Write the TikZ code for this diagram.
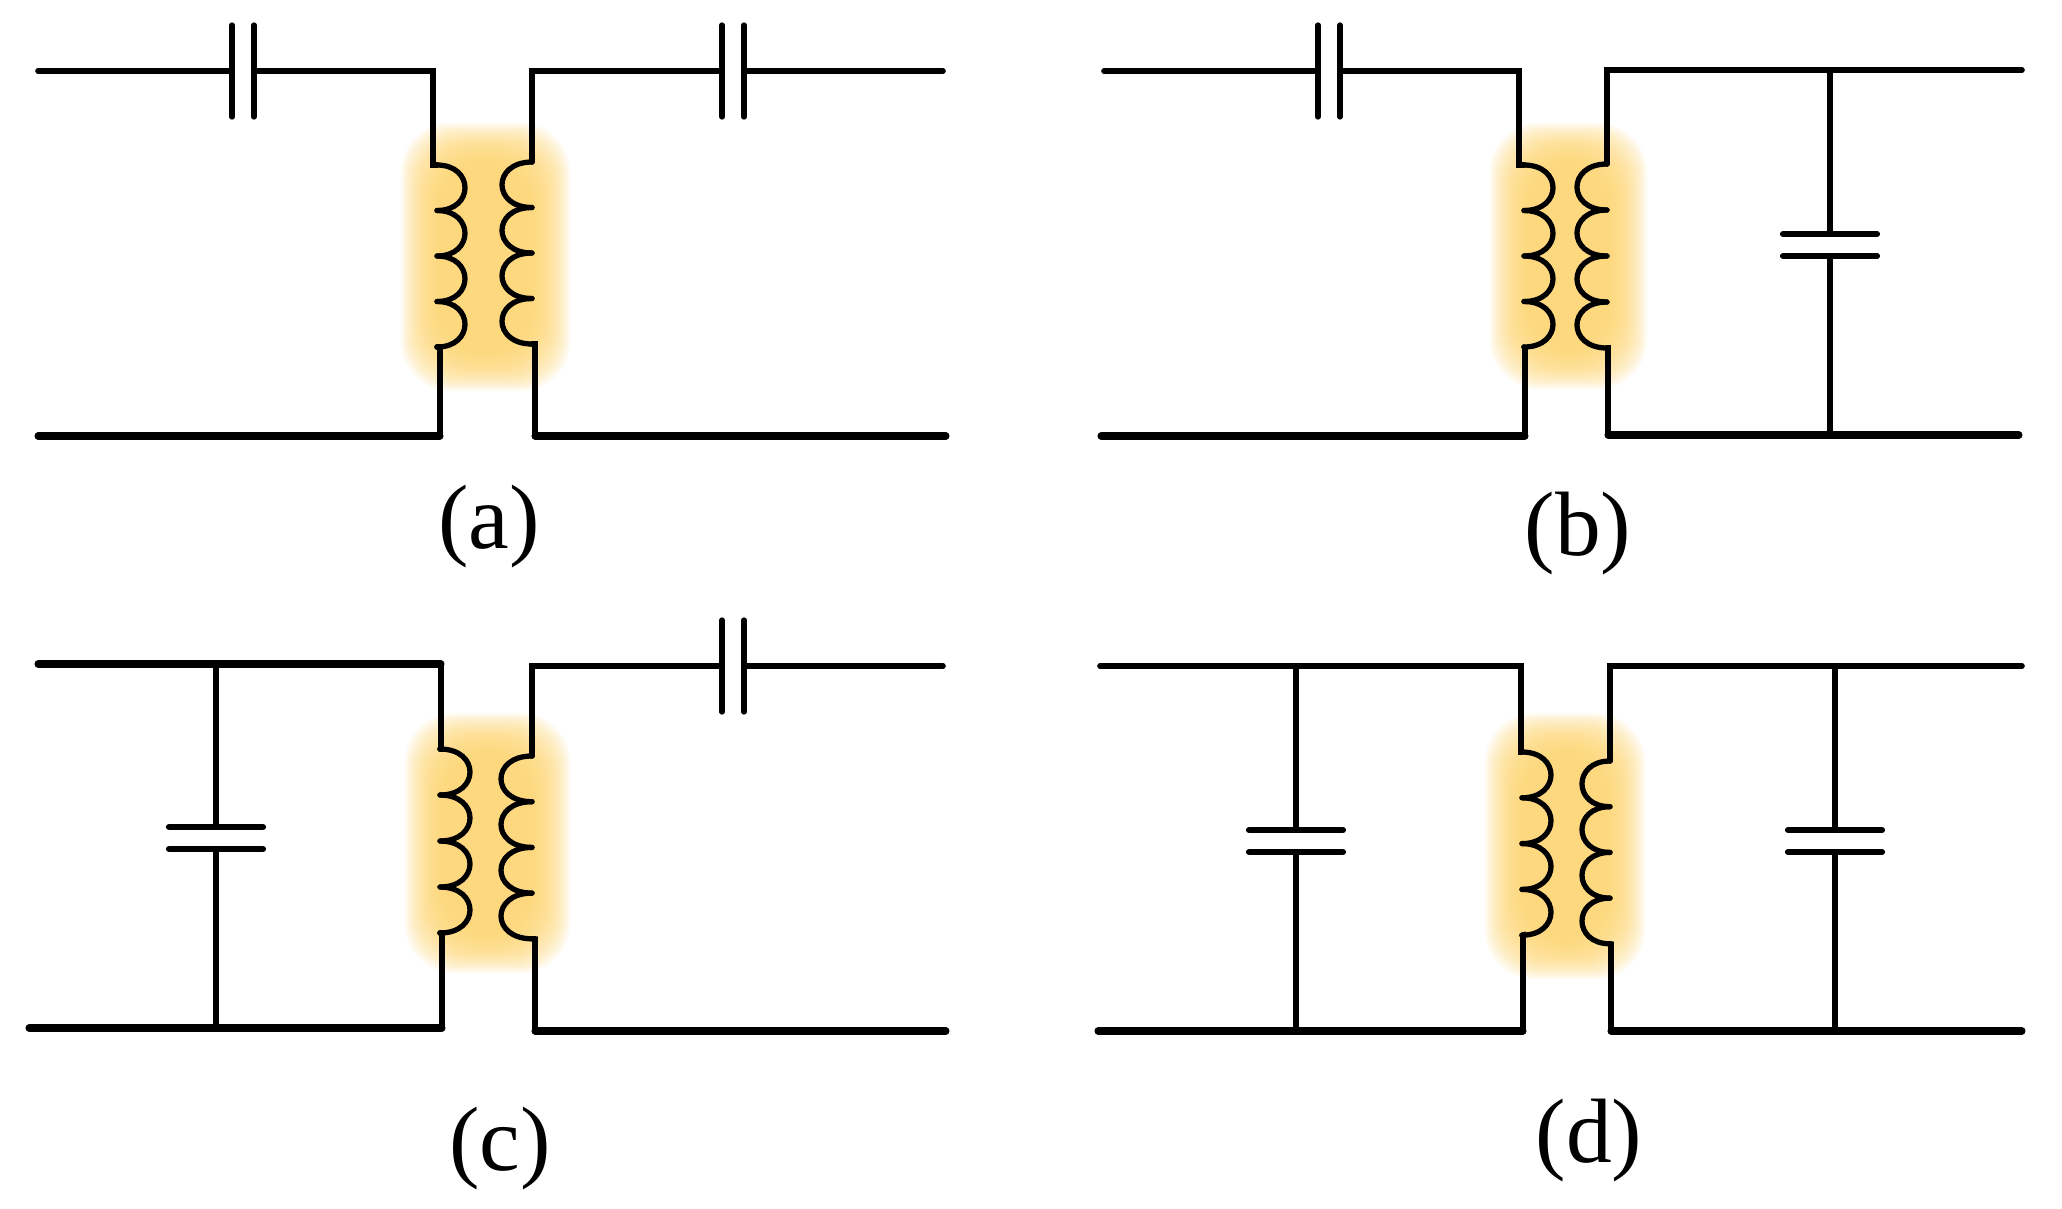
\documentclass[tikz,border=0pt]{standalone}
\usepackage{fontspec}
\setmainfont{Liberation Serif}
\definecolor{glowcol}{HTML}{FDD26A}
\tikzset{
  wire/.style={line width=1.6pt, line cap=round, line join=miter},
  busline/.style={line width=2pt, line cap=round, line join=miter},
  stem/.style={line width=1.5pt},
  coilline/.style={line width=1.5pt, line cap=round},
  sideplate/.style={line width=1.5pt, line cap=round},
  flatplate/.style={line width=1.75pt, line cap=round},
  tag/.style={font=\fontsize{26}{26}\selectfont, inner sep=0pt},
}
% soft yellow patch behind a transformer
\newcommand{\glow}[4]{
  \foreach \g in {0,...,23}
    \fill[glowcol, opacity=0.08, rounded corners=14]
      ({#1-5+\g*1.6},{#2-5+\g*1.6}) rectangle ({#3+5-\g*1.6},{#4+5-\g*1.6});
}
% name, x, y of first turn, turn height, bulge
\newcommand{\coil}[5]{
  \coordinate (#1t) at (#2,#3);
  \coordinate (#1b) at (#2,{#3+4*#4});
  \foreach \k in {0,...,3}
    \draw[coilline] (#2,{#3+\k*#4}) .. controls +({#5/0.75},0) and +({#5/0.75},0) .. +(0,#4);
}
% capacitor in a horizontal wire
\newcommand{\seriescap}[3]{
  \coordinate (#1l) at ({#2-11},#3);
  \coordinate (#1r) at ({#2+11},#3);
  \draw[sideplate] ({#2-11},{#3-46}) -- ({#2-11},{#3+46});
  \draw[sideplate] ({#2+11},{#3-46}) -- ({#2+11},{#3+46});
}
% capacitor in a vertical wire
\newcommand{\shuntcap}[3]{
  \coordinate (#1u) at (#2,{#3-11});
  \coordinate (#1d) at (#2,{#3+11});
  \draw[flatplate] ({#2-47},{#3-11}) -- ({#2+47},{#3-11});
  \draw[flatplate] ({#2-47},{#3+11}) -- ({#2+47},{#3+11});
}

\begin{document}
\begin{tikzpicture}[x=0.01cm, y=-0.01cm]
  \useasboundingbox (0,0) rectangle (2062,1208);

  % (a)
  \glow{406}{128}{565}{386}
  \coil{al}{437}{165}{45.5}{28}
  \coil{ar}{532}{162}{45.5}{-30}
  \seriescap{ac1}{243}{71}
  \seriescap{ac2}{733}{71}
  \coordinate (a1) at (38,71);
  \coordinate (a2) at (433,71);
  \coordinate (a3) at (433,165);
  \coordinate (a4) at (440,347);
  \coordinate (a5) at (440,436);
  \coordinate (a6) at (38,436);
  \coordinate (a7) at (532,71);
  \coordinate (a8) at (943,71);
  \coordinate (a9) at (535,344);
  \coordinate (a10) at (535,436);
  \coordinate (a11) at (946,436);
  \draw[wire] (a1) -- (ac1l);
  \draw[wire] (ac1r) -- (a2) -- (a3) -- (alt);
  \draw[wire] (alb) -- (a4) -- (a5);
  \draw[busline] (a5) -- (a6);
  \draw[wire] (ac2l) -- (a7) -- (art);
  \draw[wire] (ac2r) -- (a8);
  \draw[wire] (arb) -- (a9) -- (a10);
  \draw[busline] (a10) -- (a11);
  \node[tag] (tagA) at (489,527) {(a)};

  % (b)
  \glow{1495}{128}{1642}{384}
  \coil{bl}{1524}{165}{45.5}{29}
  \coil{br}{1607}{164}{46}{-30}
  \seriescap{bc1}{1329}{71}
  \shuntcap{bc2}{1830}{245}
  \coordinate (b1) at (1104,71);
  \coordinate (b2) at (1519,71);
  \coordinate (b3) at (1519,165);
  \coordinate (b4) at (1525,348);
  \coordinate (b5) at (1525,436);
  \coordinate (b6) at (1101,436);
  \coordinate (b7) at (1607,70);
  \coordinate (b8) at (2022,70);
  \coordinate (b9) at (1608,348);
  \coordinate (b10) at (1608,435);
  \coordinate (b11) at (2019,435);
  \coordinate (b12) at (1830,70);
  \coordinate (b13) at (1830,435);
  \draw[wire] (b1) -- (bc1l);
  \draw[wire] (bc1r) -- (b2) -- (b3) -- (blt);
  \draw[wire] (blb) -- (b4) -- (b5);
  \draw[busline] (b5) -- (b6);
  \draw[wire] (b8) -- (b7) -- (brt);
  \draw[wire] (brb) -- (b9) -- (b10);
  \draw[busline] (b10) -- (b11);
  \draw[stem] (b12) -- (bc2u);
  \draw[stem] (bc2d) -- (b13);
  \node[tag] (tagB) at (1578,533) {(b)};

  % (c)
  \glow{410}{718}{565}{968}
  \coil{cl}{440}{749}{46}{30}
  \coil{cr}{532}{756}{45.7}{-31}
  \shuntcap{cc1}{216}{838}
  \seriescap{cc2}{733}{666}
  \coordinate (c1) at (38,664);
  \coordinate (c2) at (441,664);
  \coordinate (c3) at (441,749);
  \coordinate (c4) at (442,933);
  \coordinate (c5) at (442,1028);
  \coordinate (c6) at (29,1028);
  \coordinate (c7) at (532,666);
  \coordinate (c8) at (943,666);
  \coordinate (c9) at (535,939);
  \coordinate (c10) at (535,1031);
  \coordinate (c11) at (946,1031);
  \coordinate (c12) at (216,664);
  \coordinate (c13) at (216,1028);
  \draw[busline] (c1) -- (c2);
  \draw[wire] (c2) -- (c3) -- (clt);
  \draw[wire] (clb) -- (c4) -- (c5);
  \draw[busline] (c5) -- (c6);
  \draw[wire] (cc2l) -- (c7) -- (crt);
  \draw[wire] (cc2r) -- (c8);
  \draw[wire] (crb) -- (c9) -- (c10);
  \draw[busline] (c10) -- (c11);
  \draw[stem] (c12) -- (cc1u);
  \draw[stem] (cc1d) -- (c13);
  \node[tag] (tagC) at (500,1148) {(c)};

  % (d)
  \glow{1490}{718}{1640}{974}
  \coil{dl}{1522}{752}{45.8}{29}
  \coil{dr}{1610}{761}{45.7}{-28}
  \shuntcap{dc1}{1296}{841}
  \shuntcap{dc2}{1835}{841}
  \coordinate (d1) at (1100,666);
  \coordinate (d2) at (1521,666);
  \coordinate (d3) at (1521,752);
  \coordinate (d4) at (1523,935);
  \coordinate (d5) at (1523,1031);
  \coordinate (d6) at (1098,1031);
  \coordinate (d7) at (1610,666);
  \coordinate (d8) at (2022,666);
  \coordinate (d9) at (1611,944);
  \coordinate (d10) at (1611,1031);
  \coordinate (d11) at (2022,1031);
  \coordinate (d12) at (1296,666);
  \coordinate (d13) at (1296,1031);
  \coordinate (d14) at (1835,666);
  \coordinate (d15) at (1835,1031);
  \draw[wire] (d1) -- (d2) -- (d3) -- (dlt);
  \draw[wire] (dlb) -- (d4) -- (d5);
  \draw[busline] (d5) -- (d6);
  \draw[wire] (d8) -- (d7) -- (drt);
  \draw[wire] (drb) -- (d9) -- (d10);
  \draw[busline] (d10) -- (d11);
  \draw[stem] (d12) -- (dc1u);
  \draw[stem] (dc1d) -- (d13);
  \draw[stem] (d14) -- (dc2u);
  \draw[stem] (dc2d) -- (d15);
  \node[tag] (tagD) at (1589,1140) {(d)};
\end{tikzpicture}
\end{document}
